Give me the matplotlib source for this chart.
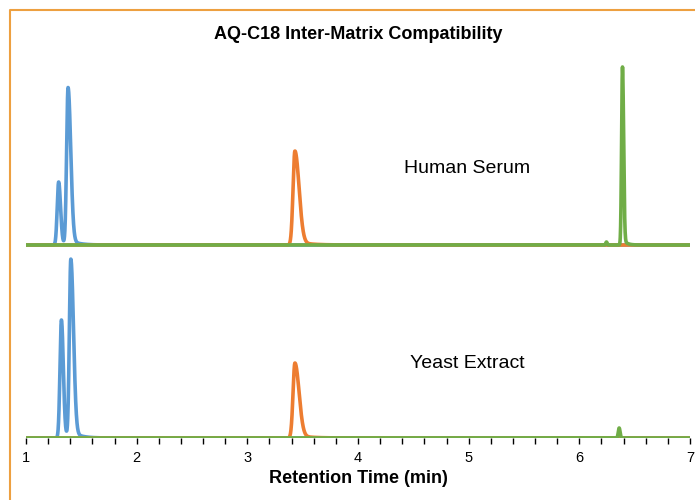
import numpy as np
import matplotlib.pyplot as plt
from matplotlib.lines import Line2D

plt.rcParams['font.family'] = ['Liberation Sans', 'DejaVu Sans']

# peak tables: retention time (min), height, left/right width (min)
serum_blue_rt = [1.295, 1.38]
serum_blue_h = [63, 157]
serum_blue_w = [(0.013, 0.017), (0.013, 0.024)]
serum_orange_rt = [3.43]
serum_orange_h = [94]
serum_orange_w = [(0.017, 0.037)]
serum_green_rt = [6.245, 6.39]
serum_green_h = [3, 178]
serum_green_w = [(0.006, 0.006), (0.008, 0.01)]

yeast_blue_rt = [1.32, 1.405]
yeast_blue_h = [118, 178]
yeast_blue_w = [(0.013, 0.017), (0.013, 0.024)]
yeast_orange_rt = [3.43]
yeast_orange_h = [75]
yeast_orange_w = [(0.017, 0.037)]
yeast_green_rt = [6.36]
yeast_green_h = [10]
yeast_green_w = [(0.008, 0.008)]

xticks = [1, 2, 3, 4, 5, 6, 7]

offset = 193  # vertical shift of the Human Serum trace
blue, orange, green = '#5B9BD5', '#ED7D31', '#70AD47'

t = np.linspace(1.0, 7.0, 6001)


def trace(rts, hs, ws):
    y = np.zeros_like(t)
    for rt, h, (sl, sr) in zip(rts, hs, ws):
        s = np.where(t < rt, sl, sr)
        y += h * np.exp(-0.5 * ((t - rt) / s) ** 2)
        # small tailing after the peak
        tail = np.where(t > rt, np.exp(-(t - rt) / (3 * sr)), 0.0)
        y += 0.04 * h * tail * (1 - np.exp(-0.5 * ((t - rt) / sr) ** 2))
    return y


fig = plt.figure(figsize=(6.95, 5.0), dpi=100)
ax = fig.add_axes([26 / 695, 62 / 500, 664 / 695, 380 / 500])

lw = 2.6
ax.plot(t, trace(yeast_blue_rt, yeast_blue_h, yeast_blue_w), color=blue, lw=lw)
ax.plot(t, trace(yeast_orange_rt, yeast_orange_h, yeast_orange_w), color=orange, lw=lw)
ax.plot(t, trace(yeast_green_rt, yeast_green_h, yeast_green_w), color=green, lw=lw)
ax.plot(t, offset + trace(serum_blue_rt, serum_blue_h, serum_blue_w), color=blue, lw=lw)
ax.plot(t, offset + trace(serum_orange_rt, serum_orange_h, serum_orange_w), color=orange, lw=lw)
ax.plot(t, offset + trace(serum_green_rt, serum_green_h, serum_green_w), color=green, lw=lw)

ax.set_xlim(1, 7)
ax.set_ylim(0, 380)
for sp in ['top', 'right', 'left', 'bottom']:
    ax.spines[sp].set_visible(False)
ax.set_yticks([])
ax.set_xticks(xticks)
ax.set_xticks(np.arange(1, 7.01, 0.2), minor=True)
ax.set_xticklabels([str(v) for v in xticks])
ax.tick_params(axis='x', which='both', direction='out', length=4, width=1, color='black', labelsize=10.5, pad=5)
ax.set_xlabel('Retention Time (min)', fontsize=13, fontweight='bold', labelpad=4)

fig.text(358 / 695, 1 - 34 / 500, 'AQ-C18 Inter-Matrix Compatibility', ha='center', va='center',
         fontsize=13, fontweight='bold')
fig.text(467 / 695, 1 - 168 / 500, 'Human Serum', ha='center', va='center', fontsize=14)
fig.text(467 / 695, 1 - 364 / 500, 'Yeast Extract', ha='center', va='center', fontsize=14)

# orange frame on the left and top
fig.lines.append(Line2D([10 / 695, 10 / 695, 1], [0, 1 - 10 / 500, 1 - 10 / 500],
                        transform=fig.transFigure, color='#EDA040', lw=1.5))

fig.savefig('out.png', dpi=100)
